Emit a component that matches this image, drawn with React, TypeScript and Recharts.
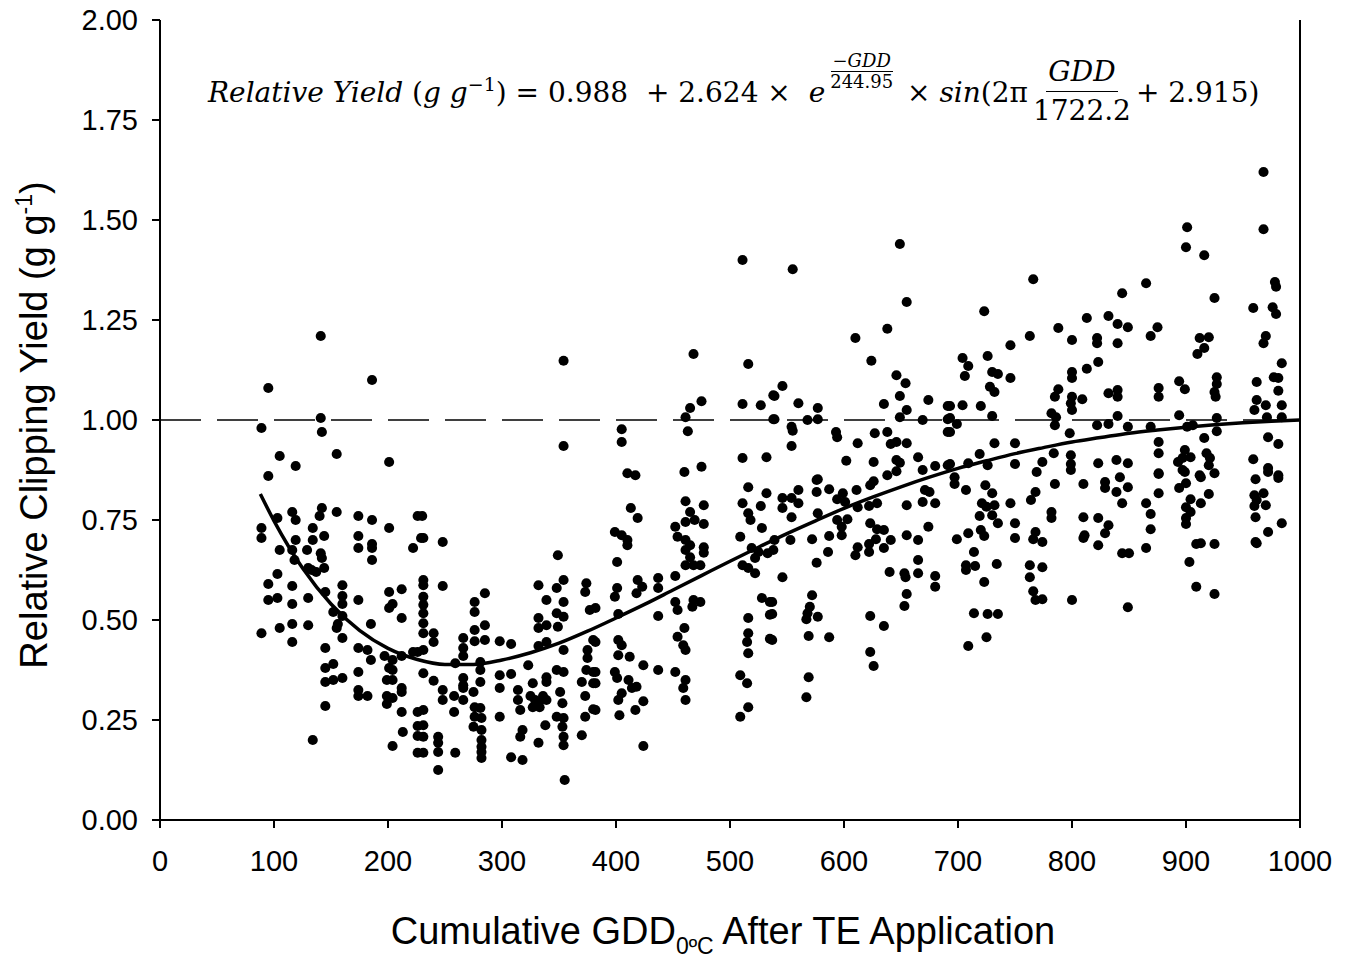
import React from "react";
import {
  ComposedChart,
  Scatter,
  Line,
  XAxis,
  YAxis,
  ZAxis,
  ReferenceLine,
} from "recharts";

const obsEarly: [number, number][] = [
  [89, 0.98], [95, 1.08], [141, 1.21], [186, 1.1], [141, 1.005], [142, 0.97], [105, 0.91], [119, 0.885], [155, 0.915], [201, 0.895], [95, 0.86],
  [103, 0.755], [116, 0.77], [119, 0.75], [142, 0.78], [140, 0.76], [155, 0.77], [174, 0.76], [186, 0.75], [201, 0.73], [226, 0.76], [89, 0.73],
  [89, 0.705], [134, 0.73], [144, 0.71], [119, 0.7], [134, 0.7], [105, 0.675], [116, 0.675], [129, 0.675], [141, 0.667], [142, 0.655], [118, 0.65],
  [174, 0.71], [174, 0.68], [186, 0.69], [186, 0.68], [186, 0.65], [222, 0.68], [229, 0.705], [144, 0.63], [130, 0.63], [103, 0.615], [95, 0.59],
  [116, 0.585], [133, 0.625], [137, 0.62], [160, 0.587], [160, 0.56], [160, 0.54], [95, 0.55], [103, 0.555], [116, 0.54], [130, 0.555], [145, 0.57],
  [174, 0.55], [152, 0.52], [160, 0.51], [156, 0.49], [155, 0.48], [201, 0.57], [212, 0.577], [204, 0.54], [201, 0.53], [212, 0.505], [185, 0.49],
  [89, 0.467], [105, 0.48], [116, 0.49], [130, 0.487], [116, 0.445], [160, 0.455], [145, 0.43], [174, 0.43], [182, 0.425], [185, 0.4], [197, 0.41],
  [204, 0.4], [212, 0.41], [222, 0.42], [226, 0.42], [145, 0.38], [152, 0.39], [201, 0.38], [204, 0.375], [174, 0.37], [145, 0.345], [152, 0.35],
  [160, 0.355], [199, 0.35], [204, 0.35], [212, 0.33], [212, 0.32], [174, 0.325], [174, 0.31], [182, 0.31], [199, 0.31], [204, 0.305], [199, 0.29],
  [145, 0.285], [226, 0.27], [212, 0.27], [226, 0.235], [213, 0.22], [226, 0.21], [134, 0.2], [204, 0.185], [226, 0.168],
];

const obsMid: [number, number][] = [
  [230, 0.76], [231, 0.705], [248, 0.695], [231, 0.6], [231, 0.587], [248, 0.585], [231, 0.558], [231, 0.538], [231, 0.517], [231, 0.492], [231, 0.467],
  [240, 0.467], [240, 0.445], [231, 0.425], [231, 0.367], [240, 0.348], [248, 0.325], [248, 0.3], [231, 0.275], [231, 0.237], [231, 0.208], [231, 0.168],
  [244, 0.208], [244, 0.193], [244, 0.17], [244, 0.125], [259, 0.392], [258, 0.31], [258, 0.27], [266, 0.3], [259, 0.168], [266, 0.455], [266, 0.43],
  [266, 0.41], [266, 0.355], [266, 0.337], [266, 0.33], [275, 0.32], [276, 0.545], [276, 0.52], [276, 0.475], [276, 0.447], [285, 0.567], [285, 0.487],
  [285, 0.45], [281, 0.395], [281, 0.375], [281, 0.345], [276, 0.282], [281, 0.28], [276, 0.258], [275, 0.233], [282, 0.255], [282, 0.225], [282, 0.2],
  [282, 0.183], [282, 0.17], [282, 0.155], [298, 0.447], [308, 0.44], [298, 0.362], [308, 0.365], [298, 0.33], [298, 0.258], [314, 0.325], [314, 0.3],
  [316, 0.275], [318, 0.225], [316, 0.208], [308, 0.157], [318, 0.15], [323, 0.387], [327, 0.342], [325, 0.31], [329, 0.3], [332, 0.292], [336, 0.31],
  [327, 0.282], [333, 0.282], [339, 0.3], [332, 0.587], [339, 0.55], [332, 0.505], [332, 0.48], [339, 0.487], [339, 0.445], [332, 0.435], [339, 0.357],
  [339, 0.345], [332, 0.193], [338, 0.237], [349, 0.662], [354, 0.6], [348, 0.58], [354, 0.545], [348, 0.517], [354, 0.508], [349, 0.483], [354, 0.425],
  [348, 0.375], [354, 0.37], [351, 0.32], [353, 0.292], [348, 0.258], [354, 0.255], [353, 0.233], [354, 0.208], [354, 0.187], [355, 0.1], [374, 0.592],
  [373, 0.57], [377, 0.525], [380, 0.45], [375, 0.425], [375, 0.405], [374, 0.375], [380, 0.37], [370, 0.345], [380, 0.342], [373, 0.31], [380, 0.277],
  [373, 0.258], [370, 0.212], [354, 1.148], [354, 0.935], [382, 0.53], [382, 0.445], [382, 0.37], [382, 0.342], [382, 0.275], [399, 0.72], [399, 0.558],
  [399, 0.37],
];

const obsLateMid: [number, number][] = [
  [405, 0.977], [405, 0.945], [410, 0.867], [417, 0.862], [460, 0.87], [475, 0.883], [468, 1.165], [475, 1.047], [465, 1.03], [461, 1.007], [463, 0.972],
  [413, 0.78], [419, 0.755], [461, 0.797], [477, 0.787], [465, 0.77], [461, 0.745], [469, 0.75], [477, 0.74], [452, 0.733], [454, 0.708], [405, 0.712],
  [410, 0.7], [410, 0.687], [461, 0.7], [465, 0.687], [461, 0.675], [477, 0.682], [477, 0.668], [465, 0.657], [461, 0.637], [468, 0.637], [474, 0.637],
  [401, 0.645], [419, 0.6], [423, 0.583], [418, 0.567], [437, 0.605], [437, 0.58], [452, 0.61], [401, 0.58], [452, 0.545], [454, 0.525], [468, 0.55],
  [474, 0.545], [467, 0.533], [402, 0.515], [437, 0.51], [402, 0.45], [405, 0.437], [402, 0.412], [412, 0.408], [424, 0.387], [437, 0.375], [452, 0.37],
  [460, 0.48], [454, 0.458], [459, 0.437], [461, 0.425], [401, 0.355], [411, 0.35], [414, 0.33], [418, 0.333], [461, 0.35], [459, 0.33], [461, 0.3],
  [405, 0.317], [402, 0.3], [424, 0.297], [417, 0.275], [403, 0.262], [424, 0.185],
  [511, 1.4], [516, 1.14], [511, 1.04], [527, 1.037], [538, 1.062], [538, 1.002], [511, 0.905], [532, 0.907], [516, 0.832], [532, 0.817], [511, 0.792],
  [527, 0.785], [516, 0.767], [518, 0.75], [528, 0.73], [509, 0.708], [519, 0.68], [525, 0.67], [533, 0.667], [522, 0.655], [511, 0.637], [516, 0.63],
  [522, 0.617], [528, 0.555], [535, 0.545], [535, 0.513], [516, 0.505], [516, 0.467], [515, 0.445], [516, 0.417], [535, 0.453], [509, 0.362], [515, 0.342],
  [516, 0.282], [509, 0.258],
  [555, 1.377], [546, 1.085], [539, 1.06], [560, 1.042], [577, 1.03], [539, 1.002], [568, 1.0], [577, 1.002], [554, 0.983], [555, 0.973], [593, 0.97],
  [594, 0.957], [554, 0.935], [577, 0.852], [576, 0.85], [560, 0.825], [576, 0.82], [587, 0.827], [599, 0.817], [546, 0.805], [554, 0.805], [560, 0.792],
  [546, 0.78], [554, 0.757], [577, 0.767], [594, 0.802], [594, 0.75], [598, 0.733], [598, 0.712], [539, 0.7], [553, 0.7], [572, 0.702], [587, 0.71],
  [538, 0.675], [586, 0.67], [576, 0.643], [546, 0.607], [572, 0.562], [537, 0.545], [537, 0.515], [570, 0.533], [568, 0.517], [567, 0.502], [577, 0.508],
  [569, 0.46], [587, 0.457], [537, 0.45], [569, 0.357], [567, 0.307],
];

const obsLate: [number, number][] = [
  [649, 1.44], [655, 1.295], [638, 1.228], [610, 1.205], [624, 1.148], [646, 1.112], [654, 1.092], [649, 1.06], [674, 1.05], [691, 1.035], [635, 1.04],
  [655, 1.025], [649, 1.007], [669, 1.0], [691, 1.002], [627, 0.967], [638, 0.97], [691, 0.97], [612, 0.942], [641, 0.94], [646, 0.945], [655, 0.942],
  [602, 0.898], [626, 0.895], [646, 0.9], [649, 0.893], [665, 0.907], [680, 0.885], [669, 0.875], [691, 0.887], [646, 0.872], [638, 0.862],
  [611, 0.825], [623, 0.837], [626, 0.847], [601, 0.795], [612, 0.782], [622, 0.785], [629, 0.792], [671, 0.825], [675, 0.82], [669, 0.795], [680, 0.792],
  [655, 0.787], [603, 0.752], [623, 0.742], [629, 0.727], [635, 0.725], [674, 0.733], [628, 0.702], [641, 0.7], [655, 0.712], [665, 0.7], [612, 0.682],
  [610, 0.662], [622, 0.69], [622, 0.67], [635, 0.68], [665, 0.65], [640, 0.62], [653, 0.617], [654, 0.607], [665, 0.617], [680, 0.61], [680, 0.583],
  [655, 0.565], [653, 0.535], [623, 0.51], [635, 0.485], [623, 0.42], [626, 0.385],
  [723, 1.272], [746, 1.187], [704, 1.155], [726, 1.16], [709, 1.135], [706, 1.11], [730, 1.12], [735, 1.115], [746, 1.105], [728, 1.083], [732, 1.07],
  [693, 1.035], [704, 1.037], [720, 1.035], [693, 1.005], [699, 0.99], [693, 0.97], [730, 1.01], [732, 0.942], [750, 0.942], [719, 0.915], [693, 0.89],
  [709, 0.892], [726, 0.887], [750, 0.89], [697, 0.857], [697, 0.84], [707, 0.825], [724, 0.837], [730, 0.817], [721, 0.792], [725, 0.783], [732, 0.787],
  [746, 0.792], [719, 0.76], [730, 0.762], [735, 0.742], [750, 0.742], [699, 0.702], [709, 0.717], [720, 0.725], [723, 0.71], [750, 0.705], [714, 0.67],
  [707, 0.637], [715, 0.635], [707, 0.625], [734, 0.64], [723, 0.595], [714, 0.517], [726, 0.515], [735, 0.515], [725, 0.457], [709, 0.435],
];

const obsEnd: [number, number][] = [
  [766, 1.352], [844, 1.317], [813, 1.255], [832, 1.26], [840, 1.24], [788, 1.23], [763, 1.21], [800, 1.2], [822, 1.205], [822, 1.192], [840, 1.192],
  [823, 1.145], [800, 1.12], [800, 1.105], [813, 1.128], [788, 1.077], [785, 1.058], [800, 1.058], [799, 1.042], [800, 1.025], [809, 1.052], [832, 1.067],
  [840, 1.075], [840, 1.058], [782, 1.017], [786, 1.007], [785, 0.987], [822, 0.987], [832, 0.99], [840, 1.01], [798, 0.967], [774, 0.895], [784, 0.917],
  [799, 0.912], [799, 0.89], [823, 0.892], [839, 0.9], [769, 0.87], [799, 0.875], [768, 0.82], [785, 0.84], [810, 0.84], [829, 0.845], [829, 0.83],
  [839, 0.82], [842, 0.857], [844, 0.792], [764, 0.8], [782, 0.77], [782, 0.755], [810, 0.757], [823, 0.755], [832, 0.737], [829, 0.717], [811, 0.712],
  [810, 0.705], [823, 0.687], [844, 0.667], [768, 0.72], [766, 0.702], [774, 0.695], [763, 0.637], [774, 0.632], [763, 0.607], [766, 0.572], [768, 0.55],
  [774, 0.552], [800, 0.55],
  [968, 1.62], [901, 1.482], [968, 1.477], [900, 1.432], [916, 1.412], [865, 1.342], [978, 1.345], [979, 1.333], [925, 1.305], [959, 1.28], [976, 1.282],
  [979, 1.265], [849, 1.232], [875, 1.232], [869, 1.21], [912, 1.205], [920, 1.207], [916, 1.18], [910, 1.165], [970, 1.21], [968, 1.192], [984, 1.142],
  [876, 1.08], [876, 1.058], [894, 1.097], [899, 1.077], [927, 1.107], [927, 1.09], [925, 1.07], [926, 1.058], [962, 1.095], [977, 1.107], [981, 1.105],
  [981, 1.073], [962, 1.05], [970, 1.037], [984, 1.037], [960, 1.025], [894, 1.012], [849, 0.983], [869, 0.983], [901, 0.983], [906, 0.987], [927, 1.005],
  [927, 0.972], [971, 1.007], [984, 1.007], [972, 0.957], [981, 0.94], [876, 0.945], [876, 0.917], [916, 0.955], [899, 0.925], [897, 0.905], [904, 0.907],
  [893, 0.895], [918, 0.917], [921, 0.905], [920, 0.887], [925, 0.867], [959, 0.902], [972, 0.88], [849, 0.892], [876, 0.867], [897, 0.875], [912, 0.862],
  [981, 0.862], [849, 0.832], [865, 0.792], [869, 0.765], [869, 0.727], [865, 0.68], [850, 0.667], [876, 0.865], [876, 0.817], [899, 0.87], [894, 0.83],
  [900, 0.842], [913, 0.857], [920, 0.815], [904, 0.802], [913, 0.792], [900, 0.782], [904, 0.77], [900, 0.755], [900, 0.74], [909, 0.69], [913, 0.692],
  [925, 0.69], [903, 0.645], [909, 0.583], [925, 0.565], [849, 0.532], [961, 0.852], [981, 0.855], [972, 0.87], [960, 0.812], [968, 0.817], [962, 0.8],
  [960, 0.785], [970, 0.787], [961, 0.757], [984, 0.742], [972, 0.72], [961, 0.695], [962, 0.692],
];

// fitted curve
const fitGdd = [88, 100, 125, 150, 175, 200, 225, 250, 275, 300, 325, 350, 375, 400, 425, 450, 475, 500, 525, 550, 575, 600, 625, 650, 675, 700, 725, 750, 775, 800, 825, 850, 875, 900, 925, 950, 975, 1000];
const fitYield = [0.815, 0.748, 0.63, 0.54, 0.474, 0.429, 0.402, 0.389, 0.389, 0.4, 0.418, 0.442, 0.472, 0.505, 0.539, 0.575, 0.611, 0.647, 0.682, 0.716, 0.748, 0.779, 0.807, 0.833, 0.857, 0.879, 0.898, 0.916, 0.931, 0.945, 0.956, 0.967, 0.975, 0.982, 0.988, 0.993, 0.997, 1.0];

const xTicks = [0, 100, 200, 300, 400, 500, 600, 700, 800, 900, 1000];
const yTicks = [0, 0.25, 0.5, 0.75, 1, 1.25, 1.5, 1.75, 2];

const scatterData = [...obsEarly, ...obsMid, ...obsLateMid, ...obsLate, ...obsEnd].map(([gdd, y]) => ({ gdd, y }));
const fitData = fitGdd.map((gdd, i) => ({ gdd, y: fitYield[i] }));

const sans = '"Liberation Sans", Arial, sans-serif';
const serif = '"DejaVu Serif", "Liberation Serif", serif';

const YTitle = () => (
  <text
    x={47}
    y={425}
    transform="rotate(-90, 47, 425)"
    textAnchor="middle"
    fontFamily={sans}
    fontSize={38}
    fill="#000"
  >
    Relative Clipping Yield (g g
    <tspan fontSize={23} dy={-15}>-1</tspan>
    <tspan dy={15}>)</tspan>
  </text>
);

const XTitle = () => (
  <text x={723} y={944} textAnchor="middle" fontFamily={sans} fontSize={38} fill="#000">
    Cumulative GDD
    <tspan fontSize={23} dy={10}>0ºC</tspan>
    <tspan dy={-10}> After TE Application</tspan>
  </text>
);

const Frac = ({ num, den, size, lift, italicNum, lh }: any) => (
  <span
    style={{
      display: "inline-flex",
      flexDirection: "column",
      alignItems: "center",
      fontSize: size,
      lineHeight: lh,
      position: "relative",
      top: -lift,
      margin: "0 3px",
    }}
  >
    <span style={{ borderBottom: "1.5px solid #000", padding: "0 2px", fontStyle: italicNum ? "italic" : "normal" }}>{num}</span>
    <span style={{ padding: "0 2px" }}>{den}</span>
  </span>
);

const Equation = () => (
  <div
    style={{
      position: "absolute",
      left: 208,
      top: 74,
      fontFamily: serif,
      fontSize: 28,
      lineHeight: 1,
      whiteSpace: "nowrap",
      color: "#000",
    }}
  >
    <i>Relative Yield</i> (<i>g g</i>
    <sup style={{ fontSize: 19, verticalAlign: 11 }}>−1</sup>) = 0.988 &nbsp;+ 2.624 × &nbsp;<i>e</i>
    <Frac num={<i>−GDD</i>} den="244.95" size={18} lift={35} lh={1.1} />
    &nbsp;× <i>sin</i>(2π
    <Frac num="GDD" den="1722.2" size={28} lift={21} lh={1.35} italicNum />
    + 2.915)
  </div>
);

export default function App() {
  return (
    <div style={{ position: "absolute", left: 0, top: 0, width: 1354, height: 960, background: "#fff" }}>
      <ComposedChart width={1354} height={960} margin={{ top: 20, right: 54, left: 60, bottom: 80 }}>
        <XAxis
          dataKey="gdd"
          type="number"
          domain={[0, 1000]}
          ticks={xTicks}
          interval={0}
          height={60}
          stroke="#000"
          axisLine={{ stroke: "#000", strokeWidth: 2 }}
          tickLine={{ stroke: "#000", strokeWidth: 2 }}
          tickSize={8}
          tickMargin={22}
          tick={{ fill: "#000", fontSize: 29, fontFamily: sans }}
        />
        <YAxis
          dataKey="y"
          type="number"
          domain={[0, 2]}
          ticks={yTicks}
          interval={0}
          width={100}
          stroke="#000"
          axisLine={{ stroke: "#000", strokeWidth: 2 }}
          tickLine={{ stroke: "#000", strokeWidth: 2 }}
          tickSize={8}
          tickMargin={14}
          tickFormatter={(v: number) => v.toFixed(2)}
          tick={{ fill: "#000", fontSize: 29, fontFamily: sans }}
        />
        <ZAxis range={[80, 80]} />
        <ReferenceLine y={1} stroke="#000" strokeWidth={1.5} strokeDasharray="41 16" />
        <ReferenceLine x={1000} stroke="#000" strokeWidth={2} />
        <Scatter data={scatterData} fill="#000" shape="circle" isAnimationActive={false} />
        <Line
          data={fitData}
          dataKey="y"
          type="monotone"
          stroke="#000"
          strokeWidth={3.5}
          dot={false}
          activeDot={false}
          isAnimationActive={false}
        />
        <YTitle />
        <XTitle />
      </ComposedChart>
      <Equation />
    </div>
  );
}
